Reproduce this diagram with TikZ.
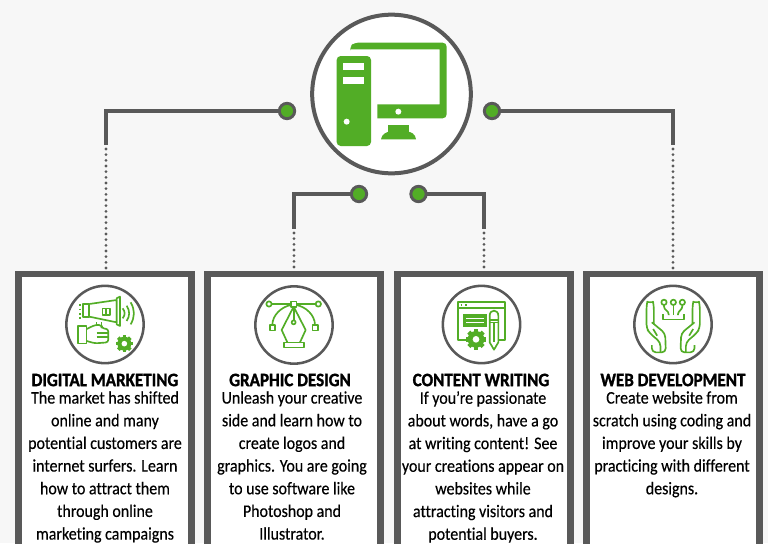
\documentclass[tikz,border=0pt]{standalone}
\usepackage{fontspec}
\setmainfont{Carlito}[FakeStretch=0.9,FakeBold=0.35,Ligatures=NoCommon,BoldFeatures={FakeBold=1.4,FakeStretch=0.9}]
\usetikzlibrary{positioning}
\definecolor{pagegrey}{HTML}{F7F7F7}
\definecolor{wiregrey}{HTML}{595959}
\definecolor{leaf}{HTML}{52AD26}
\tikzset{
  wire/.style={wiregrey,line width=2.5pt,line join=miter},
  dotwire/.style={wiregrey,line width=2.3pt,line cap=round,dash pattern=on 0pt off 4.25pt},
  joint/.style={circle,draw=wiregrey,fill=leaf,line width=2.2pt,minimum size=11.5pt,inner sep=0pt,outer sep=0pt},
  card/.style={draw=wiregrey,fill=white,line width=4.9pt,minimum width=129.75pt,minimum height=225pt,inner sep=0pt,outer sep=0pt,anchor=north},
  badge/.style={circle,draw=wiregrey,fill=white,line width=1.9pt,minimum size=58pt,inner sep=0pt},
  heading/.style={font=\bfseries\fontsize{14.2}{17}\selectfont,inner sep=0pt,anchor=center},
  blurb/.style={font=\fontsize{13.3}{17}\selectfont,align=center,inner sep=0pt,anchor=north},
  iconline/.style={leaf,line width=1.25pt,line join=round},
  iconfill/.style={fill=leaf,draw=none}
}
\newcommand{\cogwheel}[3]{
  \fill[iconfill] (#1,#2) circle (#3);
  \foreach \a in {0,45,90,135}
    \fill[iconfill,shift={(#1,#2)},rotate=\a] (-#3*0.26,-#3*1.22) rectangle (#3*0.26,#3*1.22);
  \fill[white] (#1,#2) circle (#3*0.4);
}
\begin{document}
\begin{tikzpicture}[x=0.75pt,y=-0.75pt]
  \useasboundingbox (0,0) rectangle (768,543);
  \clip (0,0) rectangle (768,543);
  \fill[pagegrey] (0,0) rectangle (768,543);

  \node[card] (carddm) at (104.75,274) {};
  \node[card] (cardgd) at (294,274) {};
  \node[card] (cardcw) at (484,274) {};
  \node[card] (cardwd) at (673,274) {};

  \node[joint] (jointdm) at (287,111) {};
  \node[joint] (jointgd) at (359,194) {};
  \node[joint] (jointcw) at (418.5,194) {};
  \node[joint] (jointwd) at (492,111) {};
  \coordinate (kneedm) at (106,145);
  \coordinate (kneegd) at (294,229);
  \coordinate (kneecw) at (484,229);
  \coordinate (kneewd) at (673,145);

  \draw[wire] (jointdm) -| (kneedm);
  \draw[wire] (jointgd) -| (kneegd);
  \draw[wire] (jointcw) -| (kneecw);
  \draw[wire] (jointwd) -| (kneewd);
  \draw[dotwire,shorten <=3pt,shorten >=3pt] (kneedm) -- (kneedm |- carddm.north);
  \draw[dotwire,shorten <=3pt,shorten >=3pt] (kneegd) -- (kneegd |- cardgd.north);
  \draw[dotwire,shorten <=3pt,shorten >=3pt] (kneecw) -- (kneecw |- cardcw.north);
  \draw[dotwire,shorten <=3pt,shorten >=3pt] (kneewd) -- (kneewd |- cardwd.north);

  \node[circle,draw=wiregrey,fill=white,line width=3pt,minimum size=119pt,inner sep=0pt] (hub) at (391.5,94) {};
  \begin{scope}[shift={(280,0)},scale=1/3]
   \fill[iconfill,rounded corners=3pt] (170,168) rectangle (273,438);
   \fill[white] (190,190) rectangle (252,211);
   \fill[white] (190,232) rectangle (252,252);
   \fill[white] (200,365) circle (9);
   \fill[iconfill] (210,148) [rounded corners=3pt] -- (210,140) -- (222,128) -- (500,128) -- (500,355)
         [sharp corners] -- (292,355) -- (292,313) -- (479,313) -- (479,148) -- cycle;
   \fill[white] (355,335) circle (9);
   \fill[iconfill] (325,375) rectangle (387,396);
   \fill[iconfill] (303,418) .. controls (305,402) and (320,395) .. (330,395) -- (382,395)
         .. controls (392,395) and (407,402) .. (408,418) -- cycle;
  \end{scope}

  \node[badge] (badgedm) at (105,324.5) {};
  \node[badge] (badgegd) at (294,325) {};
  \node[badge] (badgecw) at (481.5,324.5) {};
  \node[badge] (badgewd) at (673,324.5) {};

  % megaphone and hand
  \begin{scope}[shift={(0,265)},scale=1/3]
   \draw[iconline] (250,117) rectangle (268,155);
   \draw[iconline] (268,117) -- (350,105) -- (350,172) -- (268,155);
   \draw[iconline] (350,100) -- (360,95) -- (360,183) -- (350,178) -- cycle;
   \draw[iconline] (308,130) rectangle (330,150);
   \draw[iconline] (319,130) -- (319,150);
   \draw[iconline] (368,130) .. controls (376,140) and (376,150) .. (368,160);
   \draw[iconline] (380,122) .. controls (390,138) and (390,152) .. (380,168);
   \draw[iconline] (392,112) .. controls (405,135) and (405,155) .. (392,178);
   \draw[iconline,dotted] (240,118) -- (240,162);
   \draw[iconline] (235,182) rectangle (260,235);
   \draw[iconline,rounded corners=2pt] (260,192) -- (285,180) -- (305,180) -- (305,190) -- (325,192)
         -- (325,232) -- (285,235) -- (260,228);
   \draw[iconline] (290,172) -- (290,182) (305,172) -- (305,182);
   \draw[iconline] (290,203) -- (325,203) (290,215) -- (325,215);
   \cogwheel{373}{236}{21}
  \end{scope}

  % pen nib with bezier handles
  \begin{scope}[shift={(200,265)},scale=1/3]
   \draw[iconline] (215,117) -- (273,117) (289,117) -- (347,117);
   \draw[iconline] (207,117) circle (8);
   \draw[iconline] (355,117) circle (8);
   \draw[iconline] (273,109) rectangle (289,125);
   \draw[iconline] (217,180) .. controls (217,150) and (245,125) .. (273,120);
   \draw[iconline] (345,180) .. controls (345,150) and (317,125) .. (289,120);
   \draw[iconline] (209,180) rectangle (225,196);
   \draw[iconline] (337,180) rectangle (353,196);
   \draw[iconline] (281,125) -- (245,195) -- (262,232) (281,125) -- (317,195) -- (300,232);
   \draw[iconline] (281,125) -- (281,165);
   \draw[iconline] (281,172) circle (6);
   \draw[iconline] (251,232) rectangle (312,247);
  \end{scope}

  % browser window, gear and pencil
  \begin{scope}[shift={(390,265)},scale=1/3]
   \draw[iconline] (232,225) -- (203,225) -- (203,110) -- (345,110) -- (345,225) -- (328,225);
   \draw[iconline] (203,129) -- (345,129);
   \draw[iconline,dotted] (212,120) -- (238,120);
   \fill[iconfill] (220,147) rectangle (290,187);
   \draw[white,line width=0.7pt] (228,160) -- (282,160) (228,172) -- (282,172);
   \fill[white] (299,135) rectangle (326,255);
   \draw[iconline] (299,232) -- (299,152) .. controls (299,132) and (325,132) .. (325,152) -- (325,232) -- (312,254) -- cycle;
   \draw[iconline] (299,165) -- (325,165) (299,172) -- (325,172);
   \draw[iconline] (312,172) -- (312,232);
   \cogwheel{258}{223}{25}
  \end{scope}

  % hands holding a circuit
  \begin{scope}[shift={(578,265)},scale=1/3]
   \draw[iconline] (258,112) circle (8);
   \draw[iconline] (286,112) circle (8);
   \draw[iconline] (313,112) circle (8);
   \draw[iconline] (286,120) -- (286,150);
   \draw[iconline,rounded corners=2pt] (258,120) -- (258,132) -- (272,140) -- (272,150);
   \draw[iconline,rounded corners=2pt] (313,120) -- (313,132) -- (300,140) -- (300,150);
   \draw[iconline] (255,148) -- (255,163) -- (318,163) -- (318,148);
   \foreach \m in {1,-1}{
    \begin{scope}[shift={(285.5,0)},xscale=\m]
     \draw[iconline,rounded corners=3pt] (-38,262) -- (-38,232) -- (-70,205) -- (-80,190) -- (-80,122)
           .. controls (-78,112) and (-60,112) .. (-58,122) -- (-58,178);
     \draw[iconline,rounded corners=3pt] (-64,172) -- (-24,205) -- (-22,262) -- (-64,262) -- (-64,240);
     \draw[iconline] (-48,212) -- (-60,192);
    \end{scope}
   }
  \end{scope}

  \node[heading] (titledm) at (105,380) {DIGITAL MARKETING};
  \node[heading] (titlegd) at (290,380) {GRAPHIC DESIGN};
  \node[heading] (titlecw) at (481,380) {CONTENT WRITING};
  \node[heading] (titlewd) at (673,380) {WEB DEVELOPMENT};

  \node[blurb] (textdm) at (105,391) {The market has shifted\\online and many\\potential customers are\\internet surfers. Learn\\how to attract them\\through online\\marketing campaigns};
  \node[blurb] (textgd) at (292,391) {Unleash your creative\\side and learn how to\\create logos and\\graphics. You are going\\to use software like\\Photoshop and\\Illustrator.};
  \node[blurb] (textcw) at (483,391) {If you're passionate\\about words, have a go\\at writing content! See\\your creations appear on\\websites while\\attracting visitors and\\potential buyers.};
  \node[blurb] (textwd) at (672,391) {Create website from\\scratch using coding and\\improve your skills by\\practicing with different\\designs.};
\end{tikzpicture}
\end{document}
